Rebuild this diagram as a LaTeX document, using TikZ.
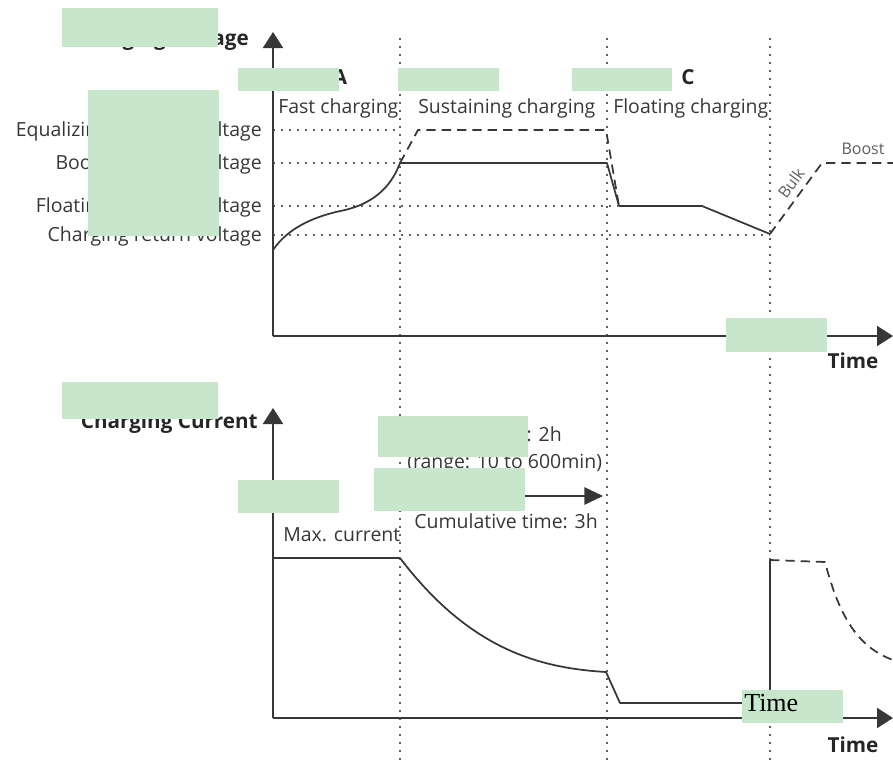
\documentclass[tikz,border=0pt]{standalone}
\usepackage{fontspec}
\setmainfont{Open Sans}
\newfontfamily\timesfont{Liberation Serif}
\usetikzlibrary{arrows.meta,positioning,calc}
\definecolor{cover}{RGB}{200,230,204}
\definecolor{ink}{RGB}{55,55,55}
\tikzset{
  axis/.style={line width=1.5pt, draw=ink, -{Triangle[length=12pt,width=15pt]}},
  guide/.style={line width=1.7pt, draw=ink!80, dash pattern=on 1.6pt off 4.4pt},
  curve/.style={line width=1.3pt, draw=ink},
  dashcurve/.style={curve, dash pattern=on 7pt off 4.5pt},
  lbl/.style={text=ink, font=\fontsize{14.6}{16}\selectfont, inner sep=0pt},
  small/.style={text=ink!80, font=\fontsize{12}{13}\selectfont, inner sep=0pt},
  blbl/.style={text=black!85, font=\bfseries\fontsize{15.5}{17}\selectfont, inner sep=0pt},
  coverbox/.style={fill=cover, draw=none},
}
\newcommand \mylevel[4]
{
\coordinate (#1) at (273,#2);                                       % on the axis
\node[lbl, anchor=base east] (#1-l) at (262,#2+6.5) {#3};          % label
\draw[guide] (#1) -- (#4,#2);                                      % dotted level
}

\begin{document}
\begin{tikzpicture}[x=0.75pt, y=-0.75pt, line join=round]
\useasboundingbox (0,0) rectangle (893,764);

% stage borders
\draw[guide] (400,38) -- (400,764);
\draw[guide] (607,38) -- (607,764);
\draw[guide] (770,38) -- (770,764);

% voltage levels
\mylevel{Veq}{130}{Equalizing charging voltage}{400}
\mylevel{Vbo}{163}{Boost charging voltage}{400}
\mylevel{Vfl}{206}{Floating charging voltage}{618}
\mylevel{Vre}{235}{Charging return voltage}{770}

% voltage chart
\coordinate (O1) at (273,336);
\draw[axis] (O1) -- (273,32);
\draw[axis] (O1) -- (893,336);
\coordinate (v0) at (273,250);
\coordinate (v1) at (400,163);
\coordinate (v2) at (607,163);
\coordinate (v3) at (619,206);
\coordinate (v4) at (702,206);
\coordinate (v5) at (770,234);
\draw[curve] (v0) .. controls (290,225) and (320,215) .. (345,210)
  .. controls (370,204) and (390,190) .. (v1) -- (v2) -- (v3) -- (v4) -- (v5);
\draw[dashcurve] (v1) -- (418,130) -- (606,130) -- (v3);
\draw[dashcurve] (v5) -- (822,163) -- (893,163);
\node[small, rotate=54] (bulk) at (791,183) {Bulk};
\node[small, anchor=base] (boost) at (863,154) {Boost};

\node[blbl, anchor=base east] (vtitle) at (249,45) {Charging Voltage};
\node[blbl, anchor=base] (sA) at (340,84) {A};
\node[blbl, anchor=base] (sB) at (493,84) {B};
\node[blbl, anchor=base] (sC) at (688,84) {C};
\node[lbl, anchor=base west] (fast) at (278,113) {Fast charging};
\node[lbl, anchor=base west] (sust) at (418,113) {Sustaining charging};
\node[lbl, anchor=base west] (float) at (613,113) {Floating charging};
\node[blbl, anchor=base] (time1) at (853,368) {Time};

% current chart
\coordinate (O2) at (273,718);
\draw[axis] (O2) -- (273,408);
\draw[axis] (O2) -- (893,718);
\coordinate (i0) at (273,558);
\coordinate (i1) at (400,558);
\coordinate (i2) at (606,672);
\coordinate (i3) at (620,703);
\coordinate (i4) at (770,703);
\coordinate (i5) at (770,560);
\draw[curve] (i0) -- (i1) .. controls (470,650) and (540,668) .. (i2) -- (i3) -- (i4) -- (i5);
\draw[dashcurve] (i5) -- (825,562) .. controls (840,620) and (860,648) .. (893,660);

\node[blbl, anchor=base east] (ititle) at (258,428) {Charging Current};
\node[lbl, anchor=base east] (dur) at (562,441) {: 2h};
\node[lbl, anchor=base west] (range) at (407,468) {(range: 10 to 600min)};
\coordinate (arrS) at (420,496);
\coordinate (arrE) at (603,496);
\draw[curve, -{Triangle[length=14pt,width=13pt]}] (arrS) -- (arrE);
\node[lbl, anchor=base east] (cum) at (598,528) {Cumulative time: 3h};
\node[lbl, anchor=base west] (imax) at (283,541) {Max. current};
\node[blbl, anchor=base] (time2) at (853,752) {Time};

% cover boxes
\fill[coverbox] (62,8) rectangle (218,47);
\fill[coverbox] (238,68) rectangle (339,91);
\fill[coverbox] (398,68) rectangle (499,91);
\fill[coverbox] (572,68) rectangle (672,91);
\fill[coverbox] (88,90) rectangle (219,236);
\fill[coverbox] (726,318) rectangle (827,352);
\fill[coverbox] (62,382) rectangle (218,419);
\fill[coverbox] (378,416) rectangle (528,457);
\fill[coverbox] (238,480) rectangle (339,513);
\fill[coverbox] (374,468) rectangle (525,511);
\fill[coverbox] (742,690) rectangle (843,723);
\node[anchor=base west, inner sep=0pt, font=\timesfont\fontsize{19.5}{20}\selectfont] (tstamp) at (744,711) {Time};
\end{tikzpicture}
\end{document}
